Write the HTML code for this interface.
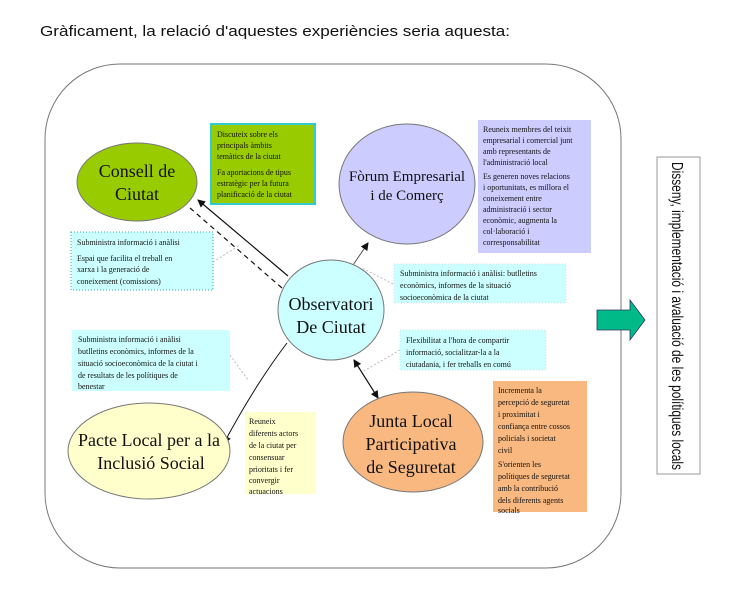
<!DOCTYPE html>
<html><head><meta charset="utf-8"><style>
body{margin:0;background:#fff;}
svg{display:block;}
text{font-family:"Liberation Serif",serif;fill:#111;}
.s{font-size:8px;}
.t{font-family:"Liberation Sans",sans-serif;}
</style></head><body>
<svg width="736" height="590" viewBox="0 0 736 590" xmlns="http://www.w3.org/2000/svg">
<defs>
<marker id="a" markerWidth="8" markerHeight="8" refX="7" refY="4" orient="auto" markerUnits="userSpaceOnUse"><path d="M0,0 L8,4 L0,8 z" fill="#111"/></marker>
<marker id="b" markerWidth="8" markerHeight="8" refX="1" refY="4" orient="auto" markerUnits="userSpaceOnUse"><path d="M8,0 L0,4 L8,8 z" fill="#111"/></marker>
</defs>
<text x="40" y="36" class="t" font-size="15" textLength="470" lengthAdjust="spacingAndGlyphs">Gràficament, la relació d'aquestes experiències seria aquesta:</text>
<rect x="45" y="64" width="576" height="504" rx="75" ry="75" fill="none" stroke="#777" stroke-width="1"/>

<g stroke="#bbb" stroke-dasharray="2,2" fill="none">
<line x1="213" y1="262" x2="240" y2="245"/>
<line x1="393" y1="284" x2="362" y2="268"/>
<line x1="400" y1="350" x2="362" y2="372"/>
<line x1="230" y1="355" x2="248" y2="380"/>
</g>

<line x1="288" y1="276" x2="198" y2="200" stroke="#111" stroke-width="1.2" marker-end="url(#a)"/>
<line x1="282" y1="288" x2="190" y2="208" stroke="#111" stroke-width="1.2" stroke-dasharray="5,4"/>
<line x1="353" y1="265" x2="368" y2="243" stroke="#555" stroke-width="1" marker-end="url(#a)"/>
<path d="M287,343 Q255,385 224,443" stroke="#111" stroke-width="1" fill="none" marker-end="url(#a)"/>
<line x1="354" y1="360" x2="378" y2="398" stroke="#111" stroke-width="1.2" marker-end="url(#a)" marker-start="url(#b)"/>

<ellipse cx="137" cy="182" rx="60" ry="39" fill="#99cc00" stroke="#777"/>
<text x="137" y="177" font-size="18" text-anchor="middle">Consell de</text>
<text x="137" y="200" font-size="18" text-anchor="middle">Ciutat</text>

<ellipse cx="407" cy="184" rx="68" ry="60" fill="#ccccff" stroke="#777"/>
<text x="407" y="181" font-size="15" text-anchor="middle">Fòrum Empresarial</text>
<text x="407" y="200" font-size="15" text-anchor="middle">i de  Comerç</text>

<ellipse cx="331" cy="310" rx="53" ry="50" fill="#ccffff" stroke="#777"/>
<text x="331" y="310" font-size="18" text-anchor="middle">Observatori</text>
<text x="331" y="333" font-size="18" text-anchor="middle">De Ciutat</text>

<ellipse cx="149" cy="451" rx="81" ry="48" fill="#ffffcc" stroke="#777"/>
<text x="149" y="446" font-size="18" text-anchor="middle">Pacte Local per a la</text>
<text x="151" y="469" font-size="18" text-anchor="middle">Inclusió Social</text>

<ellipse cx="413" cy="442" rx="70" ry="50" fill="#f8b87f" stroke="#777"/>
<text x="411" y="427" font-size="18" text-anchor="middle">Junta Local</text>
<text x="411" y="450" font-size="18" text-anchor="middle">Participativa</text>
<text x="411" y="473" font-size="18" text-anchor="middle">de Seguretat</text>

<rect x="211" y="124" width="104" height="80" fill="#99cc00" stroke="#33cccc" stroke-width="2"/>
<g class="s"><text x="217" y="137">Discuteix sobre els</text><text x="217" y="148">principals àmbits</text><text x="217" y="159">temàtics de la ciutat</text>
<text x="217" y="175">Fa aportacions de tipus</text><text x="217" y="186">estratègic per la futura</text><text x="217" y="197">planificació de la ciutat</text></g>

<rect x="478" y="120" width="113" height="133" fill="#ccccff"/>
<g class="s"><text x="483" y="132">Reuneix membres del teixit</text><text x="483" y="143">empresarial i comercial junt</text><text x="483" y="154">amb representants de</text><text x="483" y="165">l'administració local</text>
<text x="483" y="179">Es generen noves relacions</text><text x="483" y="190">i oportunitats, es millora el</text><text x="483" y="201">coneixement entre</text><text x="483" y="212">administració i sector</text><text x="483" y="223">econòmic, augmenta la</text><text x="483" y="234">col·laboració i</text><text x="483" y="245">corresponsabilitat</text></g>

<rect x="71" y="232" width="142" height="58" fill="#ccffff" stroke="#33aaaa" stroke-dasharray="1,2"/>
<g class="s"><text x="77" y="245">Subministra informació i anàlisi</text><text x="77" y="261">Espai que facilita el treball en</text><text x="77" y="272">xarxa i la generació de</text><text x="77" y="284">coneixement (comissions)</text></g>

<rect x="394" y="264" width="172" height="39" fill="#ccffff" stroke="#ddd" stroke-dasharray="1,2"/>
<g class="s"><text x="400" y="276">Subministra informació i anàlisi: butlletins</text><text x="400" y="288">econòmics, informes de la situació</text><text x="400" y="300">socioeconòmica de la ciutat</text></g>

<rect x="72" y="330" width="158" height="61" fill="#ccffff"/>
<g class="s"><text x="78" y="342">Subministra informació i anàlisi</text><text x="78" y="354">butlletins econòmics, informes de la</text><text x="78" y="366">situació socioeconòmica de la ciutat i</text><text x="78" y="378">de resultats de les polítiques de</text><text x="78" y="389">benestar</text></g>

<rect x="400" y="330" width="146" height="40" fill="#ccffff" stroke="#ddd" stroke-dasharray="1,2"/>
<g class="s"><text x="406" y="343">Flexibilitat a l'hora de compartir</text><text x="406" y="355">informació, socialitzar-la a la</text><text x="406" y="367">ciutadania, i fer treballs en comú</text></g>

<rect x="245" y="412" width="71" height="82" fill="#ffffcc"/>
<g class="s"><text x="249" y="424">Reuneix</text><text x="249" y="436">diferents actors</text><text x="249" y="448">de la ciutat per</text><text x="249" y="460">consensuar</text><text x="249" y="472">prioritats i fer</text><text x="249" y="483">convergir</text><text x="249" y="494">actuacions</text></g>

<rect x="493" y="381" width="94" height="131" fill="#f8b87f"/>
<g class="s"><text x="498" y="393">Incrementa la</text><text x="498" y="405">percepció de seguretat</text><text x="498" y="417">i proximitat i</text><text x="498" y="429">confiança entre cossos</text><text x="498" y="441">policials i societat</text><text x="498" y="453">civil</text>
<text x="498" y="467">S'orienten les</text><text x="498" y="479">polítiques de seguretat</text><text x="498" y="491">amb la contribució</text><text x="498" y="503">dels diferents agents</text><text x="498" y="513">socials</text></g>

<path d="M597,310 L630,310 L630,300 L645,320 L630,340 L630,330 L597,330 z" fill="#00bb88" stroke="#336" stroke-width="0.8"/>

<rect x="657" y="157" width="43" height="317" fill="#fff" stroke="#999"/>
<text class="t" font-size="16" transform="translate(672,162) rotate(90)" textLength="308" lengthAdjust="spacingAndGlyphs">Disseny, implementació i avaluació de les polítiques locals</text>
</svg>
</body></html>
